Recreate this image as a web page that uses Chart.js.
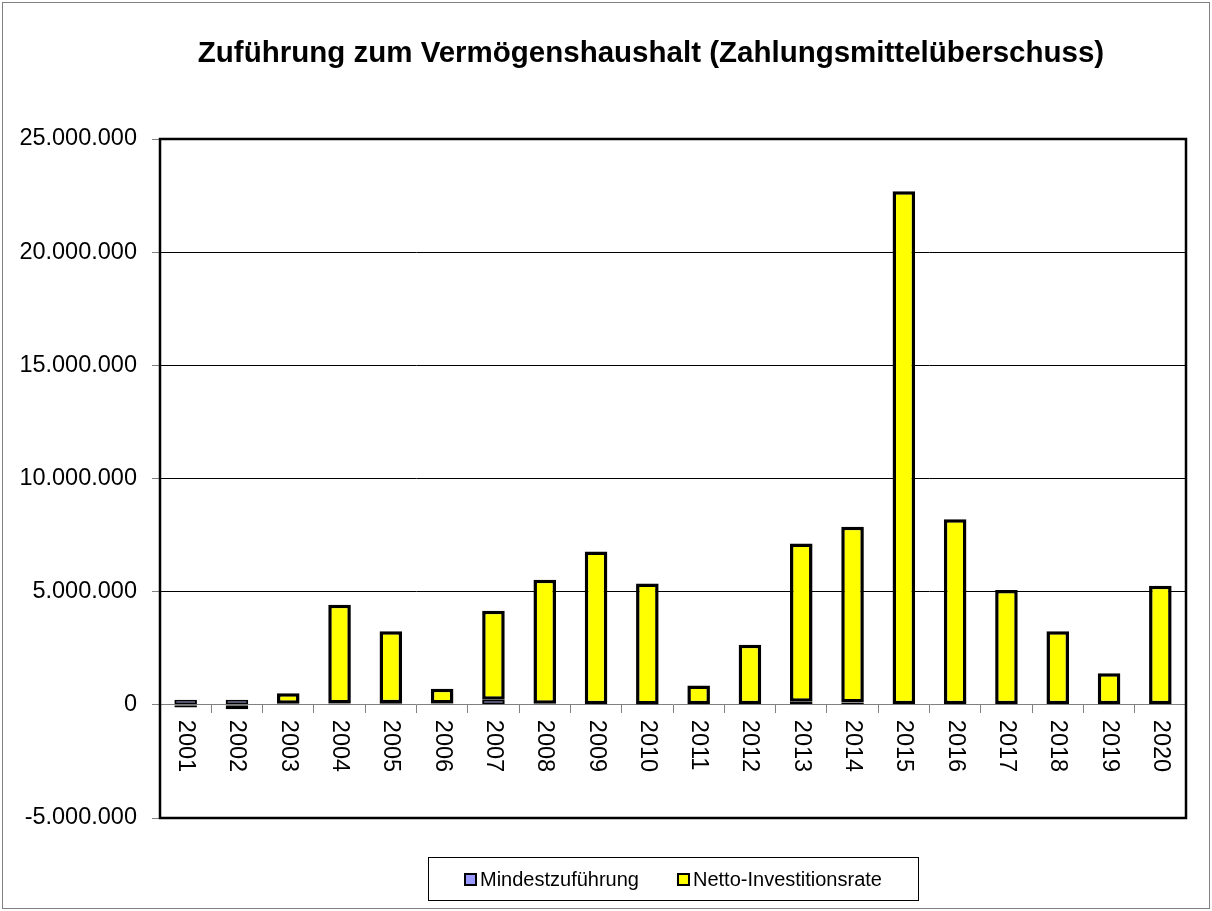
<!DOCTYPE html>
<html><head><meta charset="utf-8">
<script src="https://cdn.jsdelivr.net/npm/chart.js@4.4.1/dist/chart.umd.min.js"></script>
<style>html,body{margin:0;padding:0;background:#fff;} #wrap{width:1212px;height:911px;}</style>
</head><body><div id="wrap"><canvas id="c" width="1212" height="911"></canvas></div>
<script>
const years = ['2001','2002','2003','2004','2005','2006','2007','2008','2009','2010','2011','2012','2013','2014','2015','2016','2017','2018','2019','2020'];
const mindestzufuehrung = [230000, 220000, 50000, 60000, 70000, 60000, 230000, 50000, 30000, 20000, 0, 0, 140000, 100000, 0, 0, 0, 0, 0, 0];
const nettoInvestitionsrate = [-120000, -200000, 460000, 4360000, 3180000, 650000, 3930000, 5480000, 6750000, 5340000, 850000, 2660000, 6990000, 7770000, 22690000, 8200000, 5070000, 3250000, 1390000, 5260000];
const yMin = -5000000, yMax = 25000000, yStep = 5000000;
const titleText = 'Zuführung zum Vermögenshaushalt (Zahlungsmittelüberschuss)';
const seriesLabels = ['Mindestzuführung', 'Netto-Investitionsrate'];
const FONT = '"Liberation Sans", Arial, sans-serif';

function fmt(v){
  const s = Math.abs(Math.round(v)).toString().replace(/\B(?=(\d{3})+(?!\d))/g, '.');
  return (v < 0 ? '-' : '') + s;
}

const deco = {
  id: 'deco',
  afterDraw(chart){
    const ctx = chart.ctx, a = chart.chartArea;
    ctx.save();
    ctx.strokeStyle = '#808080'; ctx.lineWidth = 1;
    ctx.strokeRect(2.5, 2.5, chart.width - 5, chart.height - 5);
    ctx.strokeStyle = '#000'; ctx.lineWidth = 2.5;
    ctx.strokeRect(a.left, a.top, a.right - a.left, a.bottom - a.top);
    // title
    ctx.fillStyle = '#000'; ctx.font = 'bold 29.5px ' + FONT;
    ctx.textAlign = 'center'; ctx.textBaseline = 'middle';
    ctx.fillText(titleText, (a.left + a.right) / 2 - 22, 54);
    // x labels (rotated, reading downward)
    const xs = chart.scales.x, ys = chart.scales.y;
    const y0 = ys.getPixelForValue(0);
    ctx.font = '23.5px ' + FONT; ctx.textAlign = 'left'; ctx.textBaseline = 'middle';
    years.forEach((lab, i) => {
      const x = xs.getPixelForTick(i);
      ctx.save(); ctx.translate(x, y0 + 15); ctx.rotate(Math.PI / 2);
      ctx.fillText(lab, 0, 0); ctx.restore();
    });
    // legend
    ctx.font = '20px ' + FONT;
    const sq = 13, gap = 3, itemGap = 38, padX = 36, h = 43;
    const ds = chart.data.datasets;
    const widths = ds.map(d => ctx.measureText(d.label).width);
    const total = ds.length * (sq + gap) + widths.reduce((s, w) => s + w, 0) + itemGap * (ds.length - 1);
    const cx = (a.left + a.right) / 2;
    const top = Math.round(a.bottom + 39) + 0.5;
    ctx.strokeStyle = '#000'; ctx.lineWidth = 1;
    ctx.strokeRect(Math.round(cx - total / 2 - padX) + 0.5, top, Math.round(total + 2 * padX), h);
    let x = Math.round(cx - total / 2); const cy = top + h / 2;
    ds.forEach((d, i) => {
      ctx.fillStyle = d.backgroundColor;
      ctx.fillRect(x, Math.round(cy - sq / 2), sq, sq);
      ctx.lineWidth = 2; ctx.strokeStyle = '#000';
      ctx.strokeRect(x + 1, Math.round(cy - sq / 2) + 1, sq - 2, sq - 2);
      x += sq + gap;
      ctx.fillStyle = '#000'; ctx.textAlign = 'left'; ctx.textBaseline = 'middle';
      ctx.fillText(d.label, x, cy + 1);
      x += widths[i] + itemGap;
    });
    ctx.restore();
  }
};

new Chart(document.getElementById('c'), {
  type: 'bar',
  data: {
    labels: years,
    datasets: [
      { label: seriesLabels[0], data: mindestzufuehrung, backgroundColor: '#9999FF', borderColor: '#000', borderWidth: 2, borderSkipped: false, barPercentage: 0.44, categoryPercentage: 1 },
      { label: seriesLabels[1], data: nettoInvestitionsrate, backgroundColor: '#FFFF00', borderColor: '#000', borderWidth: 3.5, borderSkipped: false, barPercentage: 0.44, categoryPercentage: 1 }
    ]
  },
  options: {
    responsive: false,
    animation: false,
    devicePixelRatio: 1,
    layout: { padding: { top: 139, left: 0, right: 26, bottom: 93 } },
    plugins: { legend: { display: false }, title: { display: false }, tooltip: { enabled: false } },
    scales: {
      x: {
        stacked: true,
        position: { y: 0 },
        offset: true,
        ticks: { display: false },
        grid: { drawOnChartArea: false, drawTicks: true, tickLength: 8, tickColor: '#808080', offset: true },
        border: { display: true, color: '#808080', width: 1 }
      },
      y: {
        stacked: true,
        min: yMin, max: yMax,
        afterFit(scale){ scale.width = 160; },
        ticks: { stepSize: yStep, callback: v => fmt(v), color: '#000', font: { family: FONT, size: 23.5 }, padding: 15 },
        grid: { color: ctx => (ctx.tick && ctx.tick.value === 0) ? 'rgba(0,0,0,0)' : '#000', lineWidth: 1, drawTicks: true, tickLength: 8, tickColor: '#808080' },
        border: { display: false }
      }
    }
  },
  plugins: [deco]
});
</script>
</body></html>
